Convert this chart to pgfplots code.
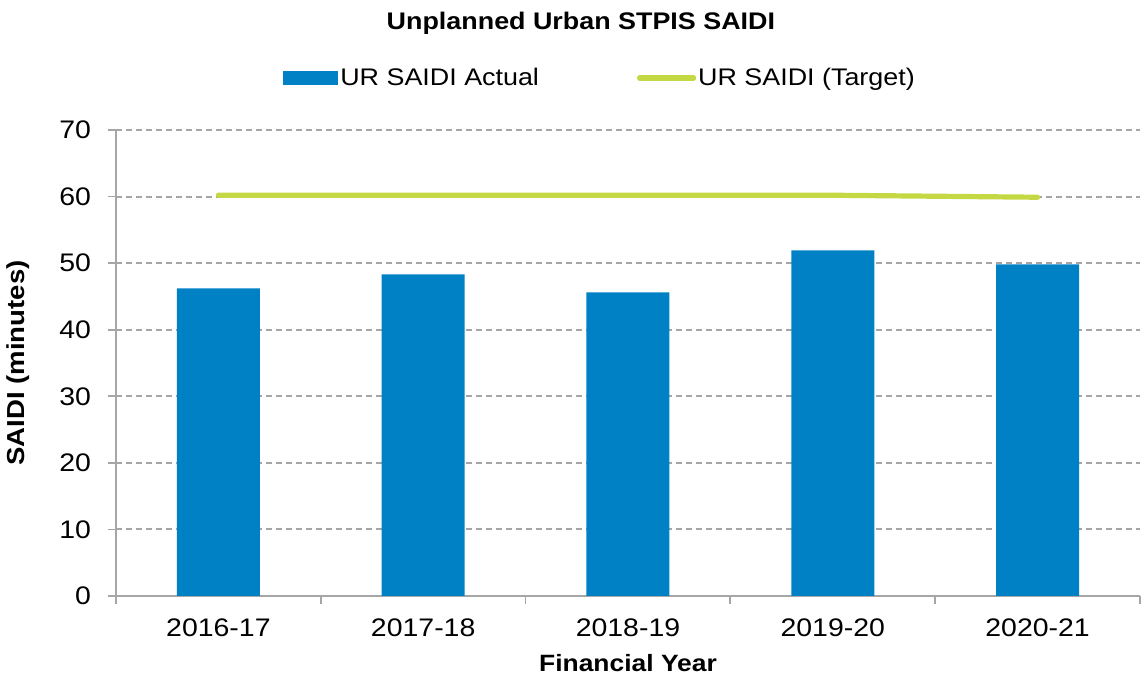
\documentclass[border=0pt]{standalone}
\usepackage{pgfplots}
\pgfplotsset{compat=1.18}
\usepackage{fontspec}
\setmainfont{Liberation Sans}[FakeStretch=1.12]
\definecolor{barblue}{RGB}{0,129,198}
\definecolor{tgtgreen}{RGB}{196,216,68}
\definecolor{gridgray}{RGB}{166,166,166}
\begin{document}
\begin{tikzpicture}
\path[use as bounding box] (0,0) rectangle (571pt,340pt);
\begin{axis}[
  at={(58pt,42pt)}, anchor=south west,
  scale only axis, width=512pt, height=233pt,
  xmin=-0.5, xmax=4.5, ymin=0, ymax=70,
  axis lines*=left,
  axis line style={gridgray, line width=0.9pt},
  xtick={0,1,2,3,4},
  xticklabels={2016-17,2017-18,2018-19,2019-20,2020-21},
  major x tick style={draw=none},
  minor xtick={-0.5,0.5,1.5,2.5,3.5,4.5},
  minor x tick style={gridgray, line width=0.9pt},
  minor tick length=4pt,
  ytick={0,10,...,70},
  y tick style={gridgray, line width=0.9pt},
  major tick length=4pt,
  tick align=outside,
  ymajorgrids,
  grid style={gridgray, line width=1pt, dash pattern=on 3pt off 2pt},
  tick label style={font=\fontsize{12.7}{14}\selectfont, /pgf/number format/assume math mode=true},
  yticklabel style={xshift=-5pt},
  xticklabel style={yshift=-4pt},
  xlabel={\bfseries Financial Year},
  ylabel={\bfseries SAIDI (minutes)},
  xlabel style={font=\fontsize{11.8}{14}\selectfont, at={(rel axis cs:0.5,0)}, anchor=center, yshift=-33.5pt},
  ylabel style={font=\fontsize{12.3}{14}\selectfont, at={(rel axis cs:0,0.5)}, anchor=center, yshift=49pt},
  title={\bfseries Unplanned Urban STPIS SAIDI},
  title style={font=\fontsize{12}{14}\selectfont, at={(rel axis cs:0.454,1)}, anchor=center, yshift=47.5pt},
  legend columns=2,
  legend style={at={(rel axis cs:0.4727,1)}, anchor=center, yshift=26pt, draw=none, fill=none,
    font=\fontsize{12}{14}\selectfont,
    /tikz/every even column/.append style={column sep=48pt},
    nodes={inner sep=1pt}},
  clip=false,
]
\addplot[ybar, bar width=41.5pt, fill=barblue, draw=none,
  legend image code/.code={\fill[barblue] (0pt,-3.5pt) rectangle (27.5pt,3.5pt);}]
  coordinates {(0,46.2) (1,48.3) (2,45.6) (3,51.9) (4,49.8)};
\addlegendentry{UR SAIDI Actual}
\addplot[tgtgreen, line width=2.6pt, line cap=round, mark=none,
  legend image code/.code={\draw[tgtgreen, line width=2.6pt, line cap=round] (0pt,0pt) -- (27pt,0pt);}]
  coordinates {(0,60.2) (1,60.2) (2,60.2) (3,60.2) (4,59.9)};
\addlegendentry{UR SAIDI (Target)}
\end{axis}
\end{tikzpicture}
\end{document}
